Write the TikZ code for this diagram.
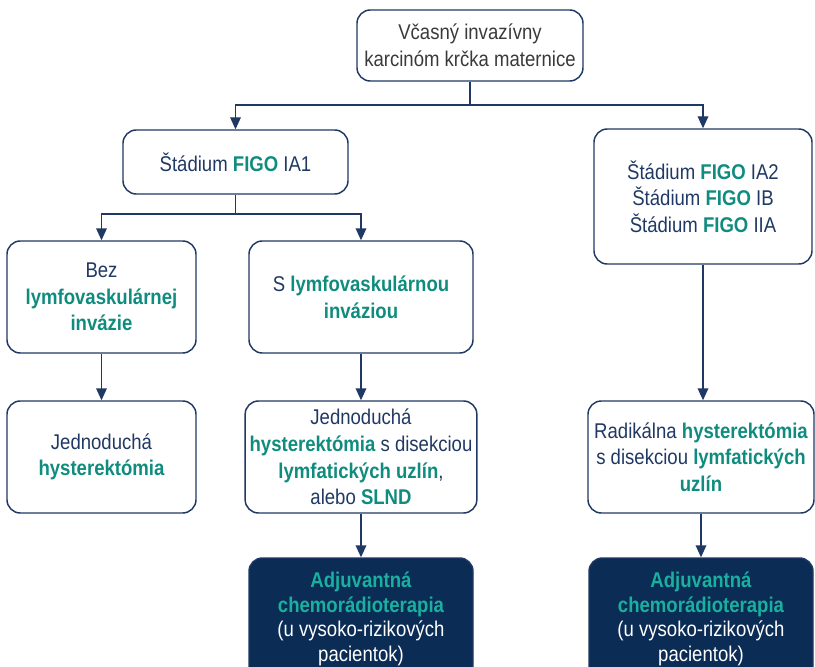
\documentclass[tikz,border=0pt]{standalone}
\usepackage{fontspec}
\setmainfont{Liberation Sans}[FakeStretch=0.87]
\usetikzlibrary{arrows.meta}

\definecolor{navy}{HTML}{1F3864}
\definecolor{tealtext}{HTML}{0F8C7E}
\definecolor{tealbright}{HTML}{1AB0A0}
\definecolor{darkfill}{HTML}{0B2C55}
\definecolor{graytext}{HTML}{3A3A3A}

\newcommand{\hl}[1]{\textbf{\color{tealtext}#1}}
\newcommand{\hlb}[1]{\textbf{\color{tealbright}#1}}

\tikzset{
  box/.style={draw=navy, line width=1.1pt, rounded corners=10pt, align=center,
    text=navy, font=\fontsize{16}{20}\selectfont},
  darkbox/.style={box, fill=darkfill, text=white, font=\fontsize{16}{18.5}\selectfont},
  ln/.style={draw=navy, line width=1.1pt},
  arr/.style={ln, -{Triangle[length=9pt,width=8pt]}}
}

\begin{document}
\begin{tikzpicture}[x=0.75pt,y=-0.75pt]

\useasboundingbox (0,0) rectangle (815,667);

\node[box, text=graytext, minimum width=169.5pt, minimum height=53.25pt] (top) at (470,45.5) {Včasný invazívny\\karcinóm krčka maternice};

\node[box, minimum width=168.75pt, minimum height=48pt] (ia1) at (235.5,162) {Štádium \hl{FIGO} IA1};

\node[box, minimum width=163.5pt, minimum height=101.25pt] (figo) at (703,196.5) {Štádium \hl{FIGO} IA2\\Štádium \hl{FIGO} IB\\Štádium \hl{FIGO} IIA};

\node[box, minimum width=141.75pt, minimum height=84pt] (bez) at (101.5,297) {Bez\\\hl{lymfovaskulárnej}\\\hl{invázie}};
\node[box, minimum width=168pt, minimum height=84pt] (slv) at (361,297) {S \hl{lymfovaskulárnou}\\\hl{inváziou}};

\node[box, minimum width=141.75pt, minimum height=84pt] (jh) at (101.5,457) {Jednoduchá\\\hl{hysterektómia}};
\node[box, minimum width=168pt, minimum height=84pt] (jhs) at (361,457) {Jednoduchá\\\hl{hysterektómia} s disekciou\\\hl{lymfatických uzlín},\\alebo \hl{SLND}};
\node[box, minimum width=169.5pt, minimum height=84pt] (rad) at (701,457) {Radikálna \hl{hysterektómia}\\s disekciou \hl{lymfatických}\\\hl{uzlín}};

\node[darkbox, minimum width=168pt, minimum height=91.5pt] (adj1) at (361,619) {\hlb{Adjuvantná}\\\hlb{chemorádioterapia}\\(u vysoko-rizikových\\pacientok)};
\node[darkbox, minimum width=168pt, minimum height=91.5pt] (adj2) at (701,619) {\hlb{Adjuvantná}\\\hlb{chemorádioterapia}\\(u vysoko-rizikových\\pacientok)};

\coordinate (j1) at (470,105);
\draw[ln] (top.south) -- (j1);
\draw[arr] (j1) -| (ia1.north);
\draw[arr] (j1) -| (figo.north);

\coordinate (j2) at (235.5,214);
\draw[ln] (ia1.south) -- (j2);
\draw[arr] (j2) -| (bez.north);
\draw[arr] (j2) -| (slv.north);

\draw[arr] (bez) -- (jh);
\draw[arr] (slv) -- (jhs);
\draw[arr] (figo.south) -- (figo.south |- rad.north);
\draw[arr] (jhs) -- (adj1);
\draw[arr] (rad) -- (adj2);

\end{tikzpicture}
\end{document}
